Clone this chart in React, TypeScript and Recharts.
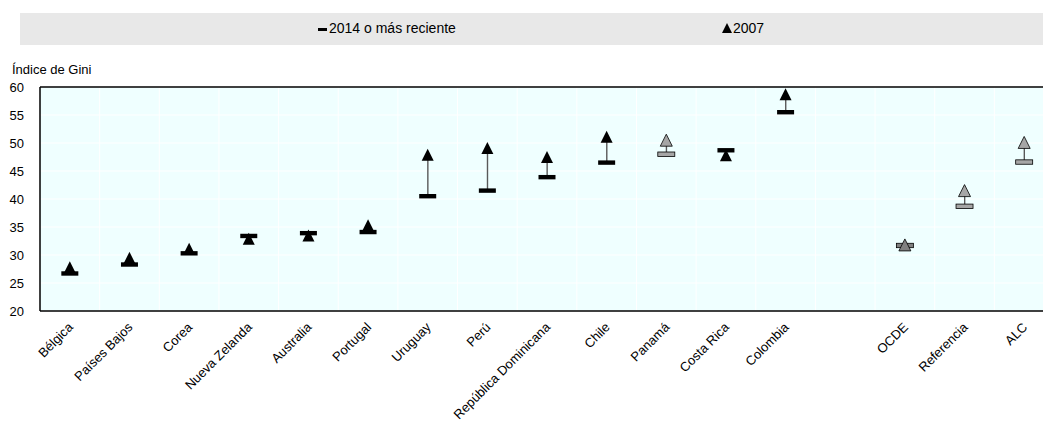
import React from 'react';
import { ComposedChart, Bar, Line, XAxis, YAxis, CartesianGrid, ReferenceLine } from 'recharts';

const categories = [
  'Bélgica', 'Países Bajos', 'Corea', 'Nueva Zelanda', 'Australia', 'Portugal', 'Uruguay', 'Perú',
  'República Dominicana', 'Chile', 'Panamá', 'Costa Rica', 'Colombia', '', 'OCDE', 'Referencia', 'ALC',
];
const gini2014 = [26.7, 28.3, 30.3, 33.4, 33.9, 34.1, 40.5, 41.5, 43.9, 46.5, 48.0, 48.7, 55.5, null, 31.7, 38.7, 46.6];
const gini2007 = [27.8, 29.5, 31.1, 32.9, 33.5, 35.3, 47.9, 49.1, 47.5, 51.1, 50.5, 47.8, 58.7, null, 31.8, 41.5, 50.1];
const yTicks = [20, 25, 30, 35, 40, 45, 50, 55, 60];
const edgeTicks = [1, 2, 3, 4, 5, 6, 7, 8, 9, 10, 11, 12, 13, 14, 15, 16];

// grey markers for the aggregates / Panamá
const markerFill: Record<string, string> = {
  'Panamá': '#a6a6a6',
  'OCDE': '#808080',
  'Referencia': '#a6a6a6',
  'ALC': '#a6a6a6',
};

const FONT = "'Liberation Sans', Arial, sans-serif";

const data = categories.map((name, i) => {
  const a = gini2014[i];
  const b = gini2007[i];
  return {
    name,
    v2014: a,
    v2007: b,
    range: a == null || b == null ? null : [Math.min(a, b), Math.max(a, b)],
  };
});

const RangeLine = (props: any) => {
  const { x, y, width, height, payload } = props;
  if (!payload || payload.range == null) return <g />;
  const cx = x + width / 2;
  return <line x1={cx} x2={cx} y1={y} y2={y + height} stroke="#595959" strokeWidth={1.4} />;
};

const Dash = (props: any) => {
  const { cx, cy, payload, index } = props;
  if (cx == null || cy == null || payload?.v2014 == null) return <g key={index} />;
  const fill = markerFill[payload.name];
  return (
    <rect
      key={index}
      x={cx - 8.5}
      y={cy - 2.2}
      width={17}
      height={4.4}
      fill={fill ?? '#000'}
      stroke={fill ? '#000' : 'none'}
      strokeWidth={0.8}
    />
  );
};

const Tri = (props: any) => {
  const { cx, cy, payload, index } = props;
  if (cx == null || cy == null || payload?.v2007 == null) return <g key={index} />;
  const fill = markerFill[payload.name];
  return (
    <polygon
      key={index}
      points={`${cx},${cy - 6} ${cx + 6},${cy + 6} ${cx - 6},${cy + 6}`}
      fill={fill ?? '#000'}
      stroke={fill ? '#000' : 'none'}
      strokeWidth={0.8}
    />
  );
};

const XTick = (props: any) => {
  const { x, y, payload } = props;
  const ax = x + 4;
  const ay = y + 17;
  return (
    <text
      x={ax}
      y={ay}
      transform={`rotate(-45 ${ax} ${ay})`}
      textAnchor="end"
      fontSize={13}
      fontFamily={FONT}
      fill="#000"
    >
      {payload.value}
    </text>
  );
};

export default function App() {
  return (
    <div style={{ position: 'absolute', left: 0, top: 0, width: 1043, height: 426, overflow: 'hidden', fontFamily: FONT, background: '#fff' }}>
      <div style={{ position: 'absolute', left: 20, top: 13, width: 1023, height: 32, background: '#e8e8e8' }}>
        <div style={{ position: 'absolute', left: 298, top: 7, fontSize: 14, lineHeight: '17px', whiteSpace: 'nowrap' }}>
          <span style={{ display: 'inline-block', width: 9, height: 3, background: '#000', verticalAlign: 'middle', marginRight: 2 }} />
          2014 o más reciente
        </div>
        <div style={{ position: 'absolute', left: 702, top: 7, fontSize: 14, lineHeight: '17px', whiteSpace: 'nowrap' }}>
          <svg width={10} height={10} style={{ verticalAlign: 'middle', marginRight: 1, marginTop: -3 }}>
            <polygon points="5,0 10,10 0,10" fill="#000" />
          </svg>
          2007
        </div>
      </div>
      <div style={{ position: 'absolute', left: 12, top: 62, fontSize: 13, whiteSpace: 'nowrap' }}>Índice de Gini</div>
      <ComposedChart width={1060} height={426} data={data} margin={{ top: 87, right: 6, bottom: 0, left: 0 }}>
        <CartesianGrid
          stroke="#ffffff"
          strokeWidth={1}
          fill="#efffff"
          verticalCoordinatesGenerator={({ offset }: any) =>
            edgeTicks.map((i) => offset.left + (i * offset.width) / categories.length)
          }
        />
        <XAxis
          dataKey="name"
          interval={0}
          tickLine={false}
          tickSize={0}
          tickMargin={0}
          height={115}
          axisLine={{ stroke: '#000', strokeWidth: 1.5 }}
          tick={<XTick />}
        />
        <XAxis
          xAxisId="edge"
          type="number"
          domain={[0, categories.length]}
          ticks={edgeTicks}
          allowDataOverflow
          mirror
          tick={false}
          tickSize={4}
          axisLine={false}
          tickLine={{ stroke: '#000' }}
        />
        <YAxis
          domain={[20, 60]}
          ticks={yTicks}
          width={40}
          tickLine={false}
          tickSize={0}
          tickMargin={16}
          axisLine={{ stroke: '#000', strokeWidth: 1.5 }}
          tick={{ fill: '#000', fontSize: 13, fontFamily: FONT }}
          allowDataOverflow
        />
        <YAxis
          yAxisId="edge"
          type="number"
          domain={[20, 60]}
          ticks={yTicks}
          allowDataOverflow
          mirror
          width={0}
          tick={false}
          tickSize={4}
          axisLine={false}
          tickLine={{ stroke: '#000' }}
        />
        <ReferenceLine y={60} stroke="#000" strokeWidth={1.5} />
        <Bar dataKey="range" shape={<RangeLine />} isAnimationActive={false} />
        <Line dataKey="v2014" stroke="none" dot={<Dash />} activeDot={false} isAnimationActive={false} />
        <Line dataKey="v2007" stroke="none" dot={<Tri />} activeDot={false} isAnimationActive={false} />
      </ComposedChart>
    </div>
  );
}
